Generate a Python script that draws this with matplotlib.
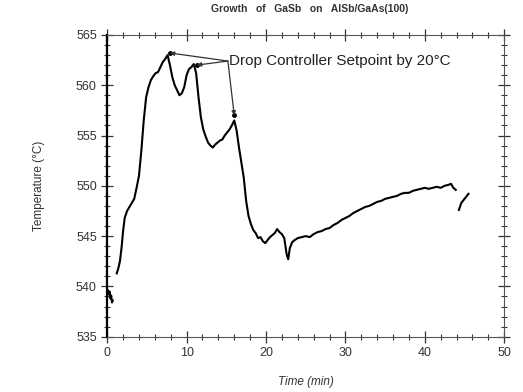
import numpy as np
import matplotlib.pyplot as plt
from matplotlib.ticker import MultipleLocator

plt.rcParams['font.family'] = ['Liberation Sans', 'DejaVu Sans']

# temperature trace (min, degC); NaN = gap in the record
time_min = [0.1, 0.2, 0.3, 0.4, 0.5, 0.6, 0.7, np.nan,
            1.2, 1.4, 1.6, 1.8, 2.0, 2.2, 2.5, 2.8, 3.1, 3.4, 3.7, 4.0,
            4.3, 4.6, 4.9, 5.2, 5.5, 5.8, 6.1, 6.4, 6.7, 7.0, 7.3, 7.6,
            7.9, 8.2, 8.5, 8.8, 9.1, 9.4, 9.7, 10.0, 10.3, 10.6, 10.9, 11.2,
            11.5, 11.8, 12.1, 12.4, 12.7, 13.0, 13.3, 13.6, 13.9, 14.2, 14.5,
            14.8, 15.1, 15.4, 15.7, 16.0, 16.3, 16.6, 16.9, 17.2, 17.5, 17.8,
            18.1, 18.4, 18.7, 19.0, 19.3, 19.6, 19.9, 20.2, 20.5, 20.8, 21.1,
            21.4, 21.7, 22.0, 22.3, 22.6, 22.8, 23.0, 23.3, 23.6, 24.0, 24.5,
            25.0, 25.5, 26.0, 26.5, 27.0, 27.5, 28.0, 28.5, 29.0, 29.5, 30.0,
            30.5, 31.0, 31.5, 32.0, 32.5, 33.0, 33.5, 34.0, 34.5, 35.0, 35.5,
            36.0, 36.5, 37.0, 37.5, 38.0, 38.5, 39.0, 39.5, 40.0, 40.5, 41.0,
            41.5, 42.0, 42.5, 43.0, 43.3, 43.6, 43.9, np.nan,
            44.3, 44.6, 44.9, 45.2, 45.5]
temp_c = [539.6, 539.2, 539.5, 538.8, 539.1, 538.4, 538.6, np.nan,
          541.3, 541.8, 542.5, 543.8, 545.5, 546.8, 547.5, 547.9, 548.3, 548.7, 549.8, 551.0,
          553.5, 556.5, 558.8, 559.8, 560.5, 560.9, 561.2, 561.3, 561.8, 562.3, 562.6, 563.0,
          562.0, 560.8, 560.0, 559.5, 559.0, 559.2, 559.8, 561.0, 561.6, 561.8, 562.1, 561.2,
          558.8, 556.8, 555.6, 554.9, 554.3, 554.0, 553.8, 554.1, 554.3, 554.5, 554.6,
          555.0, 555.3, 555.6, 556.0, 556.5, 555.5, 553.8, 552.3, 550.8, 548.5, 547.0,
          546.2, 545.6, 545.3, 544.8, 544.9, 544.5, 544.3, 544.6, 544.9, 545.1, 545.3,
          545.7, 545.4, 545.2, 544.8, 543.2, 542.7, 543.8, 544.4, 544.6, 544.8, 544.9,
          545.0, 544.9, 545.2, 545.4, 545.5, 545.7, 545.8, 546.1, 546.3, 546.6, 546.8,
          547.0, 547.3, 547.5, 547.7, 547.9, 548.0, 548.2, 548.4, 548.5, 548.7, 548.8,
          548.9, 549.0, 549.2, 549.3, 549.3, 549.5, 549.6, 549.7, 549.8, 549.7, 549.8,
          549.9, 549.8, 550.0, 550.1, 550.2, 549.8, 549.6, np.nan,
          547.6, 548.3, 548.6, 548.9, 549.2]

# setpoint drops marked by arrows
drop_t = [7.9, 11.3, 16.0]
drop_T = [563.2, 562.0, 557.0]
label_xy = (15.2, 562.4)

fig = plt.figure(figsize=(5.23, 3.92), dpi=100)
ax = fig.add_axes([0.205, 0.141, 0.759, 0.770])

ax.plot(time_min, temp_c, color='black', lw=1.5)
ax.plot(drop_t, drop_T, 'o', color='black', ms=2.5)

for t, T in zip(drop_t, drop_T):
    ax.annotate('', xy=(t, T), xytext=label_xy,
                arrowprops=dict(arrowstyle='-|>', color='#333333', lw=0.9,
                                mutation_scale=6, shrinkA=0, shrinkB=0))
ax.text(label_xy[0] + 0.1, label_xy[1], 'Drop Controller Setpoint by 20\u00b0C',
        fontsize=11, va='center', ha='left', color='#222222')

ax.set_xlim(0, 50)
ax.set_ylim(535, 565)
ax.xaxis.set_major_locator(MultipleLocator(10))
ax.xaxis.set_minor_locator(MultipleLocator(2))
ax.yaxis.set_major_locator(MultipleLocator(5))
ax.yaxis.set_minor_locator(MultipleLocator(1))
ax.tick_params(which='both', direction='inout', top=True, right=True,
               labelsize=9, colors='#333333')
ax.tick_params(which='major', length=8, width=0.9)
ax.tick_params(which='minor', length=5, width=0.8)

ax.spines['left'].set_linewidth(1.6)
for side in ['top', 'right', 'bottom']:
    ax.spines[side].set_color('#555555')
    ax.spines[side].set_linewidth(0.8)

ax.set_xlabel('Time (min)', fontsize=8.5, style='italic', color='#333333', labelpad=12)
ax.set_ylabel('Temperature (\u00b0C)', fontsize=8.5, color='#333333', labelpad=22)
fig.text(0.592, 0.978, 'Growth   of   GaSb   on   AlSb/GaAs(100)', fontsize=7.5,
         fontweight='bold', ha='center', va='center', color='#333333')

fig.savefig('out.png', dpi=100)
